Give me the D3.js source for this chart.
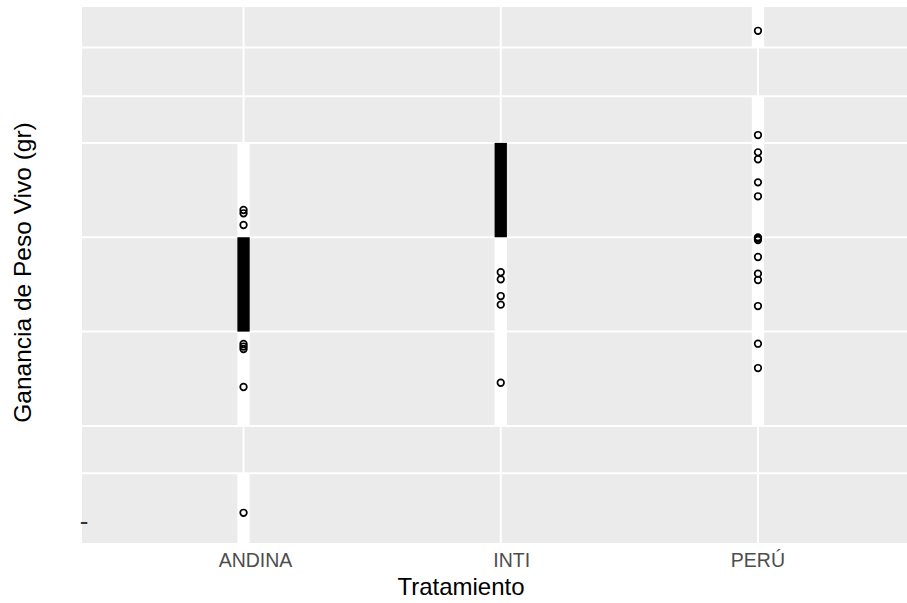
<!DOCTYPE html>
<html>
<head>
<meta charset="utf-8">
<script src="https://cdn.jsdelivr.net/npm/d3@7/dist/d3.min.js"></script>
<style>
  html, body { margin: 0; padding: 0; background: #fff; }
  svg { display: block; font-family: "Liberation Sans", Arial, sans-serif; }
</style>
</head>
<body>
<svg id="chart" width="907" height="603"></svg>
<script>
// ---- data ----
const categories = ["ANDINA", "INTI", "PERÚ"];
const labelShift = [12, 11, 0];
const gridValues = [-50, 0, 100, 200, 300, 349.5, 401];
const yTickValues = [-101];
const yTickLabels = ["-"];

const andinaPoints = [228.9, 225.4, 213, 86.9, 84.2, 81.6, 41.3, -92];
const intiPoints = [162.9, 155.4, 137.7, 128.6, 45.8];
const peruPoints = [418.8, 308.3, 290, 282.6, 258.2, 243.4, 199.9, 198.5, 197.1, 179.1, 161.4, 154.7, 127.1, 87.2, 61.4];

const andinaBands = [[200, 300], [0, 100], [-124, -50]];
const intiBands = [[100, 200], [0, 100]];
const peruBands = [[401, 444], [300, 349.5], [200, 300], [100, 200], [0, 100]];

const andinaBox = [[100, 200]];
const intiBox = [[200, 300]];
const peruBox = [];

const xTitle = "Tratamiento";
const yTitle = "Ganancia de Peso Vivo (gr)";

// ---- layout ----
const svg = d3.select("#chart");
const panel = { left: 82, top: 7, right: 907, bottom: 543 };

const x = d3.scalePoint().domain(categories).range([panel.left, 919.5]).padding(0.628);
const y = d3.scaleLinear().domain([-124, 444]).range([panel.bottom, panel.top]);

const pointsBy = { "ANDINA": andinaPoints, "INTI": intiPoints, "PERÚ": peruPoints };
const bandsBy = { "ANDINA": andinaBands, "INTI": intiBands, "PERÚ": peruBands };
const boxBy = { "ANDINA": andinaBox, "INTI": intiBox, "PERÚ": peruBox };
const bandW = 12.3;

// panel background
svg.append("rect")
  .attr("x", panel.left).attr("y", panel.top)
  .attr("width", panel.right - panel.left).attr("height", panel.bottom - panel.top)
  .attr("fill", "#EBEBEB");

// horizontal gridlines
svg.append("g").selectAll("line").data(gridValues).join("line")
  .attr("x1", panel.left).attr("x2", panel.right)
  .attr("y1", d => y(d)).attr("y2", d => y(d))
  .attr("stroke", "#fff").attr("stroke-width", 2);

// vertical gridlines
svg.append("g").selectAll("line").data(categories).join("line")
  .attr("x1", d => x(d)).attr("x2", d => x(d))
  .attr("y1", panel.top).attr("y2", panel.bottom)
  .attr("stroke", "#fff").attr("stroke-width", 2);

// white bands
const bandData = categories.flatMap(c => bandsBy[c].map(b => ({ c, lo: b[0], hi: b[1] })));
svg.append("g").selectAll("rect").data(bandData).join("rect")
  .attr("x", d => x(d.c) - bandW / 2).attr("width", bandW)
  .attr("y", d => y(d.hi)).attr("height", d => y(d.lo) - y(d.hi))
  .attr("fill", "#fff");

// black boxes
const boxData = categories.flatMap(c => boxBy[c].map(b => ({ c, lo: b[0], hi: b[1] })));
svg.append("g").selectAll("rect").data(boxData).join("rect")
  .attr("x", d => x(d.c) - bandW / 2).attr("width", bandW)
  .attr("y", d => y(d.hi)).attr("height", d => y(d.lo) - y(d.hi))
  .attr("fill", "#000");

// points
const pointData = categories.flatMap(c => pointsBy[c].map(v => ({ c, v })));
svg.append("g").selectAll("circle").data(pointData).join("circle")
  .attr("cx", d => x(d.c)).attr("cy", d => y(d.v))
  .attr("r", 3.3)
  .attr("fill", "none").attr("stroke", "#000").attr("stroke-width", 1.7);

// y tick label (a lone dash)
svg.append("g").selectAll("text").data(yTickValues).join("text")
  .attr("x", 84).attr("y", d => y(d))
  .attr("dy", "0.33em")
  .attr("text-anchor", "middle")
  .attr("font-size", 26).attr("fill", "#333333")
  .text((d, i) => yTickLabels[i]);

// x tick labels
svg.append("g").selectAll("text").data(categories).join("text")
  .attr("x", (d, i) => x(d) + labelShift[i]).attr("y", 567)
  .attr("text-anchor", "middle")
  .attr("font-size", 19.5).attr("fill", "#4D4D4D")
  .text(d => d);

// axis titles
svg.append("text")
  .attr("x", 461).attr("y", 595)
  .attr("text-anchor", "middle")
  .attr("font-size", 24).attr("fill", "#000")
  .text(xTitle);

svg.append("text")
  .attr("transform", "translate(31,272.5) rotate(-90)")
  .attr("text-anchor", "middle")
  .attr("font-size", 24.5).attr("fill", "#000")
  .text(yTitle);
</script>
</body>
</html>
